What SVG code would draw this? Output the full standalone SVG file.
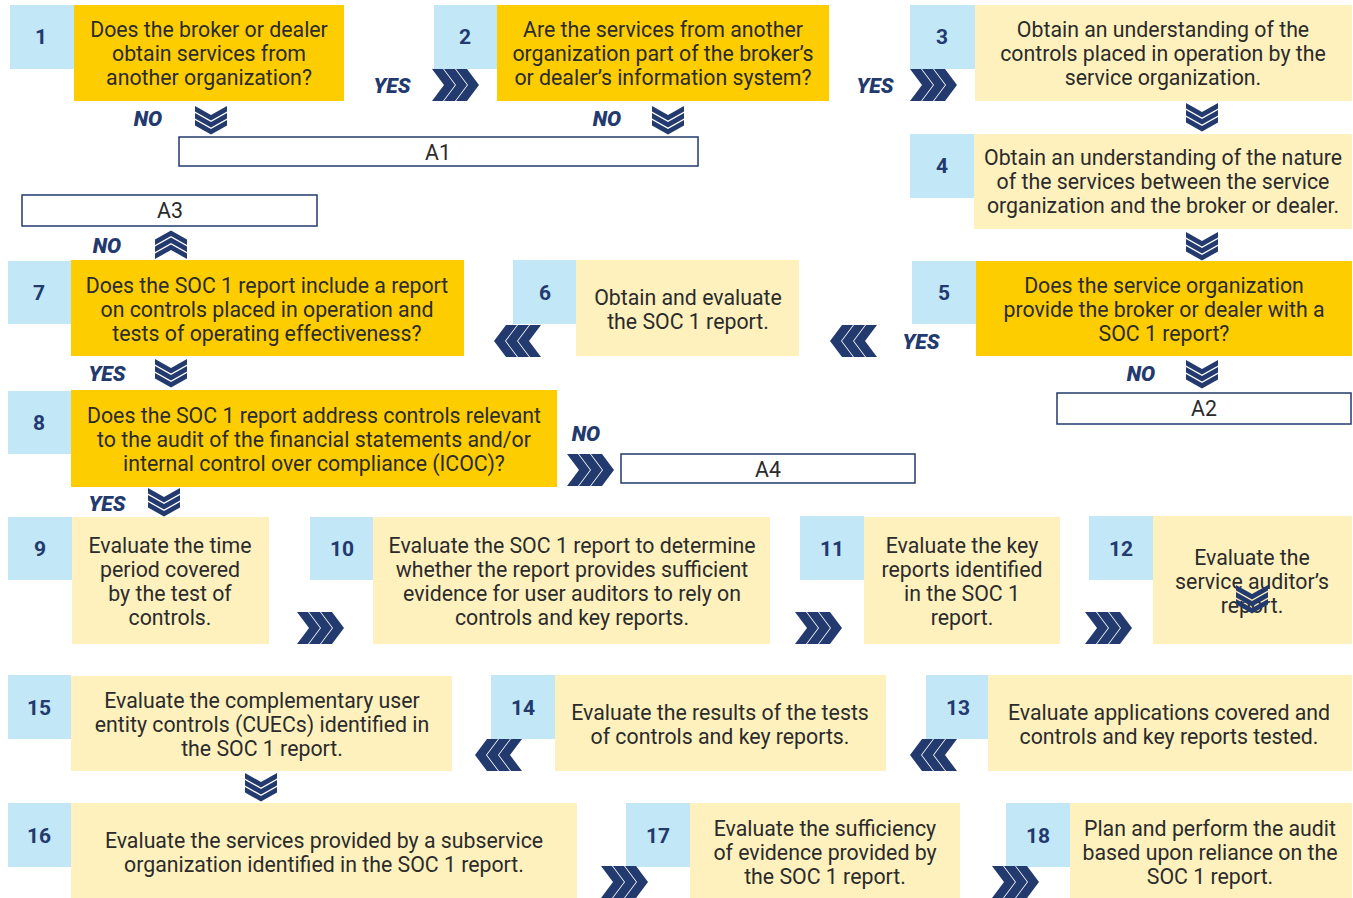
<svg xmlns="http://www.w3.org/2000/svg" xmlns:xlink="http://www.w3.org/1999/xlink" width="1353" height="898" viewBox="0 0 1353 898">
<style>
.num{fill:#c2e7f7}
.gold{fill:#fecd00}
.pale{fill:#fef1be}
.ref{fill:#ffffff;stroke:#233a6e;stroke-width:1.5}
.t{font-family:Roboto,"Liberation Sans",sans-serif;font-size:21.3px;fill:#2b2b2b;text-anchor:middle}
.n{font-family:Roboto,"Liberation Sans",sans-serif;font-size:21px;font-weight:bold;fill:#233a6e;text-anchor:middle}
.lab{font-family:Roboto,"Liberation Sans",sans-serif;font-size:21px;font-weight:900;font-style:italic;fill:#233a6e;text-anchor:middle}
.ch{fill:#233a6e}
</style>
<defs>
<g id="chR" class="ch">
<polygon points="0,-16 11,-16 23,0 11,16 0,16 12,0"/>
<polygon points="12,-16 23,-16 35,0 23,16 12,16 24,0"/>
<polygon points="24,-16 35,-16 47,0 35,16 24,16 36,0"/>
</g>
<g id="chD" class="ch">
<polygon points="-16,0 0,9 16,0 16,5.5 0,14.5 -16,5.5"/>
<polygon points="-16,7 0,16 16,7 16,12.5 0,21.5 -16,12.5"/>
<polygon points="-16,14 0,23 16,14 16,19.5 0,28.5 -16,19.5"/>
</g>
</defs>

<g id="node1">
<rect class="num" x="10" y="5" width="64" height="64"/>
<rect class="gold" x="74" y="5" width="270" height="96"/>
<text class="n" x="41" y="44">1</text>
<text class="t"><tspan x="209" y="37">Does the broker or dealer</tspan><tspan x="209" y="61">obtain services from</tspan><tspan x="209" y="85">another organization?</tspan></text>
</g>
<g id="node2">
<rect class="num" x="434" y="5" width="64" height="64"/>
<rect class="gold" x="497" y="5" width="332" height="96"/>
<text class="n" x="465" y="44">2</text>
<text class="t"><tspan x="663" y="37">Are the services from another</tspan><tspan x="663" y="61">organization part of the broker’s</tspan><tspan x="663" y="85">or dealer’s information system?</tspan></text>
</g>
<g id="node3">
<rect class="num" x="910" y="5" width="65" height="64"/>
<rect class="pale" x="975" y="5" width="377" height="96"/>
<text class="n" x="942" y="44">3</text>
<text class="t"><tspan x="1163" y="37">Obtain an understanding of the</tspan><tspan x="1163" y="61">controls placed in operation by the</tspan><tspan x="1163" y="85">service organization.</tspan></text>
</g>
<g id="node4">
<rect class="num" x="910" y="134" width="65" height="64"/>
<rect class="pale" x="974" y="134" width="378" height="95"/>
<text class="n" x="942" y="173">4</text>
<text class="t"><tspan x="1163" y="165">Obtain an understanding of the nature</tspan><tspan x="1163" y="189">of the services between the service</tspan><tspan x="1163" y="213">organization and the broker or dealer.</tspan></text>
</g>
<g id="node5">
<rect class="num" x="912" y="261" width="64" height="63"/>
<rect class="gold" x="976" y="261" width="376" height="95"/>
<text class="n" x="944" y="300">5</text>
<text class="t"><tspan x="1164" y="293">Does the service organization</tspan><tspan x="1164" y="317">provide the broker or dealer with a</tspan><tspan x="1164" y="341">SOC 1 report?</tspan></text>
</g>
<g id="node6">
<rect class="num" x="513" y="260" width="64" height="64"/>
<rect class="pale" x="576" y="260" width="223" height="96"/>
<text class="n" x="545" y="300">6</text>
<text class="t"><tspan x="688" y="305">Obtain and evaluate</tspan><tspan x="688" y="329">the SOC 1 report.</tspan></text>
</g>
<g id="node7">
<rect class="num" x="8" y="261" width="63" height="63"/>
<rect class="gold" x="71" y="260" width="393" height="96"/>
<text class="n" x="39" y="300">7</text>
<text class="t"><tspan x="267" y="293">Does the SOC 1 report include a report</tspan><tspan x="267" y="317">on controls placed in operation and</tspan><tspan x="267" y="341">tests of operating effectiveness?</tspan></text>
</g>
<g id="node8">
<rect class="num" x="8" y="391" width="63" height="63"/>
<rect class="gold" x="71" y="390" width="486" height="97"/>
<text class="n" x="39" y="430">8</text>
<text class="t"><tspan x="314" y="423">Does the SOC 1 report address controls relevant</tspan><tspan x="314" y="447">to the audit of the financial statements and/or</tspan><tspan x="314" y="471">internal control over compliance (ICOC)?</tspan></text>
</g>
<g id="node9">
<rect class="num" x="8" y="517" width="64" height="63"/>
<rect class="pale" x="72" y="517" width="197" height="127"/>
<text class="n" x="40" y="556">9</text>
<text class="t"><tspan x="170" y="553">Evaluate the time</tspan><tspan x="170" y="577">period covered</tspan><tspan x="170" y="601">by the test of</tspan><tspan x="170" y="625">controls.</tspan></text>
</g>
<g id="node10">
<rect class="num" x="310" y="517" width="64" height="63"/>
<rect class="pale" x="373" y="517" width="397" height="127"/>
<text class="n" x="342" y="556">10</text>
<text class="t"><tspan x="572" y="553">Evaluate the SOC 1 report to determine</tspan><tspan x="572" y="577">whether the report provides sufficient</tspan><tspan x="572" y="601">evidence for user auditors to rely on</tspan><tspan x="572" y="625">controls and key reports.</tspan></text>
</g>
<g id="node11">
<rect class="num" x="800" y="516" width="64" height="64"/>
<rect class="pale" x="864" y="517" width="196" height="127"/>
<text class="n" x="832" y="556">11</text>
<text class="t"><tspan x="962" y="553">Evaluate the key</tspan><tspan x="962" y="577">reports identified</tspan><tspan x="962" y="601">in the SOC 1</tspan><tspan x="962" y="625">report.</tspan></text>
</g>
<g id="node12">
<rect class="num" x="1089" y="516" width="64" height="64"/>
<rect class="pale" x="1153" y="516" width="199" height="128"/>
<text class="n" x="1121" y="556">12</text>
<text class="t"><tspan x="1252" y="565">Evaluate the</tspan><tspan x="1252" y="589">service auditor’s</tspan><tspan x="1252" y="613">report.</tspan></text>
</g>
<g id="node13">
<rect class="num" x="926" y="675" width="64" height="64"/>
<rect class="pale" x="988" y="675" width="364" height="96"/>
<text class="n" x="958" y="715">13</text>
<text class="t"><tspan x="1169" y="720">Evaluate applications covered and</tspan><tspan x="1169" y="744">controls and key reports tested.</tspan></text>
</g>
<g id="node14">
<rect class="num" x="491" y="675" width="64" height="64"/>
<rect class="pale" x="555" y="675" width="331" height="96"/>
<text class="n" x="523" y="715">14</text>
<text class="t"><tspan x="720" y="720">Evaluate the results of the tests</tspan><tspan x="720" y="744">of controls and key reports.</tspan></text>
</g>
<g id="node15">
<rect class="num" x="8" y="675" width="63" height="64"/>
<rect class="pale" x="71" y="676" width="381" height="95"/>
<text class="n" x="39" y="715">15</text>
<text class="t"><tspan x="262" y="708">Evaluate the complementary user</tspan><tspan x="262" y="732">entity controls (CUECs) identified in</tspan><tspan x="262" y="756">the SOC 1 report.</tspan></text>
</g>
<g id="node16">
<rect class="num" x="8" y="803" width="63" height="64"/>
<rect class="pale" x="71" y="803" width="506" height="95"/>
<text class="n" x="39" y="843">16</text>
<text class="t"><tspan x="324" y="848">Evaluate the services provided by a subservice</tspan><tspan x="324" y="872">organization identified in the SOC 1 report.</tspan></text>
</g>
<g id="node17">
<rect class="num" x="626" y="803" width="64" height="64"/>
<rect class="pale" x="690" y="803" width="270" height="95"/>
<text class="n" x="658" y="843">17</text>
<text class="t"><tspan x="825" y="836">Evaluate the sufficiency</tspan><tspan x="825" y="860">of evidence provided by</tspan><tspan x="825" y="884">the SOC 1 report.</tspan></text>
</g>
<g id="node18">
<rect class="num" x="1006" y="803" width="64" height="64"/>
<rect class="pale" x="1070" y="803" width="282" height="95"/>
<text class="n" x="1038" y="843">18</text>
<text class="t"><tspan x="1210" y="836">Plan and perform the audit</tspan><tspan x="1210" y="860">based upon reliance on the</tspan><tspan x="1210" y="884">SOC 1 report.</tspan></text>
</g>
<g id="A1"><rect class="ref" x="179" y="137" width="519" height="29"/><text class="t" x="438" y="160">A1</text></g>
<g id="A2"><rect class="ref" x="1057" y="393" width="294" height="31"/><text class="t" x="1204" y="416">A2</text></g>
<g id="A3"><rect class="ref" x="22" y="195" width="295" height="31"/><text class="t" x="170" y="218">A3</text></g>
<g id="A4"><rect class="ref" x="621" y="454" width="294" height="29"/><text class="t" x="768" y="477">A4</text></g>

<g id="connectors">
<use xlink:href="#chR" x="432" y="85"/>
<use xlink:href="#chR" x="910" y="85"/>
<use xlink:href="#chD" x="211" y="106"/>
<use xlink:href="#chD" x="668" y="106"/>
<use xlink:href="#chD" x="1202" y="103"/>
<use xlink:href="#chD" x="1202" y="232"/>
<use xlink:href="#chD" x="1202" y="360"/>
<use transform="translate(877,341) scale(-1,1)" xlink:href="#chR"/>
<use transform="translate(541,341) scale(-1,1)" xlink:href="#chR"/>
<use transform="translate(171,259) scale(1,-1)" xlink:href="#chD"/>
<use xlink:href="#chD" x="171" y="359"/>
<use xlink:href="#chR" x="567" y="470"/>
<use xlink:href="#chD" x="164" y="488"/>
<use xlink:href="#chR" x="297" y="628"/>
<use xlink:href="#chR" x="795" y="628"/>
<use xlink:href="#chR" x="1085" y="628"/>
<use xlink:href="#chD" x="1252" y="585"/>
<use transform="translate(957,755) scale(-1,1)" xlink:href="#chR"/>
<use transform="translate(522,755) scale(-1,1)" xlink:href="#chR"/>
<use xlink:href="#chD" x="261" y="773"/>
<use xlink:href="#chR" x="601" y="882"/>
<use xlink:href="#chR" x="992" y="882"/>
<text class="lab" x="392" y="93">YES</text>
<text class="lab" x="875" y="93">YES</text>
<text class="lab" x="148" y="126">NO</text>
<text class="lab" x="607" y="126">NO</text>
<text class="lab" x="921" y="349">YES</text>
<text class="lab" x="1141" y="381">NO</text>
<text class="lab" x="107" y="253">NO</text>
<text class="lab" x="107" y="381">YES</text>
<text class="lab" x="586" y="441">NO</text>
<text class="lab" x="107" y="511">YES</text>
</g>
</svg>
